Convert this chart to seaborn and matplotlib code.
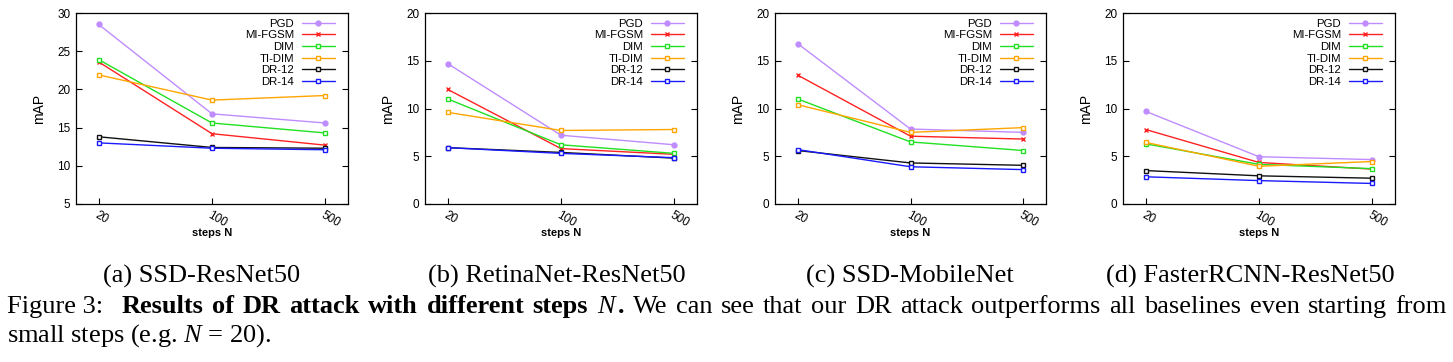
import numpy as np
import pandas as pd
import seaborn as sns
import matplotlib.pyplot as plt
from matplotlib.ticker import NullLocator, FixedLocator

# data
STEPS = [20, 100, 500]
METHODS = ["PGD", "MI-FGSM", "DIM", "TI-DIM", "DR-12", "DR-14"]
SUBCAPTIONS = ["(a) SSD-ResNet50", "(b) RetinaNet-ResNet50",
               "(c) SSD-MobileNet", "(d) FasterRCNN-ResNet50"]

SSD_RESNET50 = {
    "PGD": [28.5, 16.8, 15.6],
    "MI-FGSM": [23.6, 14.2, 12.7],
    "DIM": [23.9, 15.6, 14.3],
    "TI-DIM": [21.9, 18.6, 19.2],
    "DR-12": [13.8, 12.4, 12.3],
    "DR-14": [13.0, 12.3, 12.1],
}
RETINANET_RESNET50 = {
    "PGD": [14.7, 7.2, 6.2],
    "MI-FGSM": [12.0, 5.8, 5.2],
    "DIM": [11.0, 6.2, 5.3],
    "TI-DIM": [9.6, 7.7, 7.8],
    "DR-12": [5.9, 5.4, 4.8],
    "DR-14": [5.9, 5.3, 4.85],
}
SSD_MOBILENET = {
    "PGD": [16.8, 7.85, 7.5],
    "MI-FGSM": [13.5, 7.1, 6.8],
    "DIM": [11.0, 6.5, 5.6],
    "TI-DIM": [10.4, 7.5, 8.0],
    "DR-12": [5.6, 4.3, 4.05],
    "DR-14": [5.7, 3.9, 3.6],
}
FASTERRCNN_RESNET50 = {
    "PGD": [9.7, 4.95, 4.65],
    "MI-FGSM": [7.8, 4.35, 3.65],
    "DIM": [6.3, 4.15, 3.7],
    "TI-DIM": [6.45, 3.95, 4.45],
    "DR-12": [3.5, 2.95, 2.7],
    "DR-14": [2.85, 2.45, 2.15],
}
PANELS = [SSD_RESNET50, RETINANET_RESNET50, SSD_MOBILENET, FASTERRCNN_RESNET50]
YLIMS = [(5, 30), (0, 20), (0, 20), (0, 20)]

COLORS = {"PGD": "#bf8cff", "MI-FGSM": "#ff2222", "DIM": "#22e022",
          "TI-DIM": "#ffa500", "DR-12": "#111111", "DR-14": "#1a1aff"}
MARKERS = {"PGD": "o", "MI-FGSM": "x", "DIM": "s", "TI-DIM": "s",
           "DR-12": "s", "DR-14": "s"}

sns.set_style("ticks")
plt.rcParams["font.family"] = ["Liberation Sans", "DejaVu Sans"]
plt.rcParams["text.color"] = "black"
plt.rcParams["axes.labelcolor"] = "black"
plt.rcParams["mathtext.fontset"] = "custom"
plt.rcParams["mathtext.rm"] = "Liberation Serif"
plt.rcParams["mathtext.it"] = "Liberation Serif:italic"
plt.rcParams["mathtext.bf"] = "Liberation Serif:bold"

W, H = 1453, 362
fig = plt.figure(figsize=(W / 100, H / 100), dpi=100)

# axes boxes in pixels: left, top, right, bottom
boxes = [(76, 13, 348, 204), (425, 13, 697, 204),
         (775, 13, 1046, 204), (1123, 13, 1395, 204)]
cap_x = [202, 557, 910, 1250]

for i, vals in enumerate(PANELS):
    l, t, r, b = boxes[i]
    ax = fig.add_axes([l / W, 1 - b / H, (r - l) / W, (b - t) / H])
    df = pd.DataFrame([(m, s, v) for m in METHODS for s, v in zip(STEPS, vals[m])],
                      columns=["method", "steps", "mAP"])
    for m in METHODS:
        filled = MARKERS[m] == "o"
        sns.lineplot(data=df[df["method"] == m], x="steps", y="mAP", ax=ax,
                     color=COLORS[m], marker=MARKERS[m], lw=1.0,
                     markersize=3.5 if filled else 3.2,
                     markerfacecolor=COLORS[m] if filled else "white",
                     markeredgecolor=COLORS[m], markeredgewidth=1.0, label=m)
    ax.set_xscale("log")
    ax.set_xlim(20 / 10 ** 0.14, 500 * 10 ** 0.14)
    ax.xaxis.set_major_locator(FixedLocator(STEPS))
    ax.xaxis.set_minor_locator(NullLocator())
    ax.set_xticklabels([str(s) for s in STEPS])
    ax.set_ylim(*YLIMS[i])
    ax.set_yticks(np.arange(YLIMS[i][0], YLIMS[i][1] + 1, 5))
    ax.tick_params(direction="in", length=4, width=0.8, right=True,
                   labelsize=8.5, colors="black", pad=4)
    for lab in ax.get_xticklabels():
        lab.set_rotation(-30)
        lab.set_ha("left")
        lab.set_rotation_mode("anchor")
    for sp in ax.spines.values():
        sp.set_linewidth(0.9)
        sp.set_color("black")
    ax.set_ylabel("mAP", fontsize=10)
    ax.yaxis.set_label_coords(-0.11, 0.5)
    ax.set_xlabel("steps N", fontsize=8, fontweight="bold")
    ax.xaxis.set_label_coords(0.5, -0.125)
    ax.legend(loc="upper right", bbox_to_anchor=(1 - 13 / (r - l), 0.97),
              frameon=False, markerfirst=False, fontsize=8.2, handlelength=2.9,
              handletextpad=0.7, labelspacing=0.14, borderpad=0, borderaxespad=0)
    fig.text(cap_x[i] / W, 1 - 283 / H, SUBCAPTIONS[i], ha="center",
             va="baseline", fontsize=19, family="Liberation Serif")

# figure caption, first line justified across the page
renderer = fig.canvas.get_renderer()
serif = {"family": "Liberation Serif", "fontsize": 19, "va": "baseline"}
bold = dict(serif, fontweight="bold")

groups = [[("Figure 3:", serif)]]
groups += [[(w, bold)] for w in "Results of DR attack with different steps".split()]
groups += [[("$N$", serif), (".", bold)]]
groups += [[(w, serif)] for w in
           "We can see that our DR attack outperforms all baselines even starting from".split()]
weights = [2.2] + [1.0] * (len(groups) - 2)

y1 = 1 - 313 / H
made = []
total = 0.0
for g in groups:
    row = []
    for s, kw in g:
        txt = fig.text(0, y1, s, **kw)
        wpx = txt.get_window_extent(renderer).width
        row.append((txt, wpx))
        total += wpx
    made.append(row)
x0, x1 = 7, 1447
unit = (x1 - x0 - total) / sum(weights)
x = x0
for k, row in enumerate(made):
    for txt, wpx in row:
        txt.set_x(x / W)
        x += wpx
    if k < len(weights):
        x += unit * weights[k]

fig.text(7 / W, 1 - 342 / H, "small steps (e.g. $N$ = 20).", **serif)

fig.savefig("out.png", dpi=100)
